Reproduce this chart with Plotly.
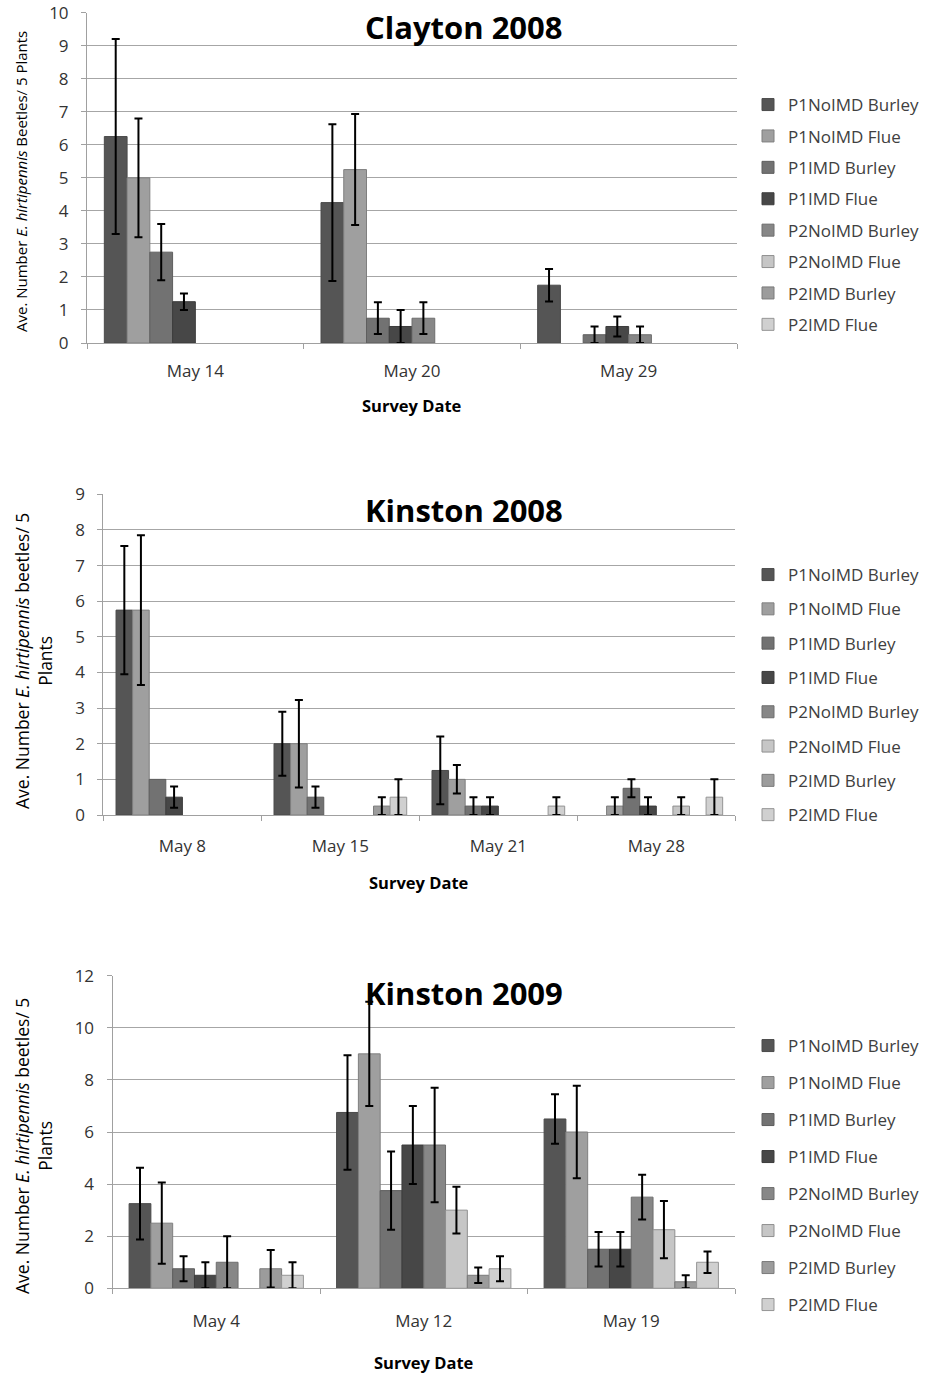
import numpy as np
import plotly.graph_objects as go

W, H = 927, 1373

series = ["P1NoIMD Burley", "P1NoIMD Flue", "P1IMD Burley", "P1IMD Flue",
          "P2NoIMD Burley", "P2NoIMD Flue", "P2IMD Burley", "P2IMD Flue"]
colors = ["#555555", "#9f9f9f", "#727272", "#474747",
          "#878787", "#c6c6c6", "#9c9c9c", "#d0d0d0"]
edges = ["#4a4a4a", "#7f7f7f", "#5e5e5e", "#3c3c3c",
         "#6e6e6e", "#8f8f8f", "#7a7a7a", "#959595"]

# ---- Clayton 2008 ----
clayton_dates = ["May 14", "May 20", "May 29"]
clayton_may14 = [6.25, 5.0, 2.75, 1.25, 0, 0, 0, 0]
clayton_may14_err = [2.95, 1.8, 0.85, 0.25, None, None, None, None]
clayton_may20 = [4.25, 5.25, 0.75, 0.5, 0.75, 0, 0, 0]
clayton_may20_err = [2.37, 1.68, 0.48, 0.5, 0.48, None, None, None]
clayton_may29 = [1.75, 0, 0.25, 0.5, 0.25, 0, 0, 0]
clayton_may29_err = [0.49, None, 0.25, 0.3, 0.25, None, None, None]

# ---- Kinston 2008 ----
kin08_dates = ["May 8", "May 15", "May 21", "May 28"]
kin08_may8 = [5.75, 5.75, 1.0, 0.5, 0, 0, 0, 0]
kin08_may8_err = [1.8, 2.1, None, 0.3, None, None, None, None]
kin08_may15 = [2.0, 2.0, 0.5, 0, 0, 0, 0.25, 0.5]
kin08_may15_err = [0.9, 1.23, 0.3, None, None, None, 0.25, 0.5]
kin08_may21 = [1.25, 1.0, 0.25, 0.25, 0, 0, 0, 0.25]
kin08_may21_err = [0.95, 0.4, 0.25, 0.25, None, None, None, 0.25]
kin08_may28 = [0, 0.25, 0.75, 0.25, 0, 0.25, 0, 0.5]
kin08_may28_err = [None, 0.25, 0.25, 0.25, None, 0.25, None, 0.5]

# ---- Kinston 2009 ----
kin09_dates = ["May 4", "May 12", "May 19"]
kin09_may4 = [3.25, 2.5, 0.75, 0.5, 1.0, 0, 0.75, 0.5]
kin09_may4_err = [1.38, 1.56, 0.48, 0.5, 1.0, None, 0.72, 0.5]
kin09_may12 = [6.75, 9.0, 3.75, 5.5, 5.5, 3.0, 0.5, 0.75]
kin09_may12_err = [2.2, 2.0, 1.5, 1.5, 2.2, 0.9, 0.3, 0.48]
kin09_may19 = [6.5, 6.0, 1.5, 1.5, 3.5, 2.25, 0.25, 1.0]
kin09_may19_err = [0.95, 1.78, 0.66, 0.66, 0.86, 1.1, 0.25, 0.41]

charts = [
    dict(dates=clayton_dates, vals=[clayton_may14, clayton_may20, clayton_may29],
         errs=[clayton_may14_err, clayton_may20_err, clayton_may29_err]),
    dict(dates=kin08_dates, vals=[kin08_may8, kin08_may15, kin08_may21, kin08_may28],
         errs=[kin08_may8_err, kin08_may15_err, kin08_may21_err, kin08_may28_err]),
    dict(dates=kin09_dates, vals=[kin09_may4, kin09_may12, kin09_may19],
         errs=[kin09_may4_err, kin09_may12_err, kin09_may19_err]),
]

# layout geometry (pixels)
plot_x = [(87, 737), (103.4, 735.3), (112.5, 735)]
plot_y = [(12.7, 343), (494.3, 815), (975.7, 1288.3)]
yranges = [(10, 1), (9, 1), (12, 2)]
titles = ["Clayton 2008", "Kinston 2008", "Kinston 2009"]
title_y = [27, 510, 993]
xlabel_y = [405, 883, 1362]
xtick_standoff = [13, 16, 17]
legend_top = [87, 557, 1028]
legend_gap = [6.3, 9.2, 11.9]
ytitles = ["Ave. Number <i>E. hirtipennis</i> Beetles/ 5 Plants",
           "Ave. Number <i>E. hirtipennis</i> beetles/ 5<br>Plants",
           "Ave. Number <i>E. hirtipennis</i> beetles/ 5<br>Plants"]
ytitle_size = [15, 17.5, 17.5]
ytitle_pos = [(21, 182), (33, 661), (33, 1146)]

FONT = "Open Sans"
fig = go.Figure()
layout = dict(width=W, height=H, margin=dict(l=0, r=0, t=0, b=0, pad=0, autoexpand=False),
              paper_bgcolor="white", plot_bgcolor="white",
              barmode="group", bargap=0.16, bargroupgap=0,
              font=dict(family=FONT, color="#333333"), annotations=[])

for ci, ch in enumerate(charts):
    sfx = "" if ci == 0 else str(ci + 1)
    xa, ya = "x" + sfx, "y" + sfx
    leg = "legend" if ci == 0 else "legend" + str(ci + 1)
    for si, name in enumerate(series):
        yv = [v[si] if v[si] != 0 else None for v in ch["vals"]]
        ev = np.array([e[si] for e in ch["errs"]], dtype=float)
        fig.add_trace(go.Bar(
            x=ch["dates"], y=yv, name=name, xaxis=xa, yaxis=ya,
            legend=leg, legendgroup=f"c{ci}s{si}",
            marker=dict(color=colors[si], line=dict(color=edges[si], width=1)),
            error_y=dict(type="data", array=ev, symmetric=True, color="black",
                         thickness=2, width=4, visible=True),
        ))
    x0, x1 = plot_x[ci]
    y0, y1 = plot_y[ci]
    layout["xaxis" + sfx] = dict(
        domain=[x0 / W, x1 / W], anchor=ya, type="category",
        categoryorder="array", categoryarray=ch["dates"],
        showline=True, linecolor="#a0a0a0", linewidth=1,
        ticks="outside", tickson="boundaries", ticklen=5, tickcolor="#a0a0a0",
        showgrid=False, tickfont=dict(size=17, color="#333333", family=FONT),
        ticklabelstandoff=xtick_standoff[ci], fixedrange=True, automargin=False)
    layout["yaxis" + sfx] = dict(
        domain=[1 - y1 / H, 1 - y0 / H], anchor=xa,
        range=[0, yranges[ci][0]], dtick=yranges[ci][1], tick0=0,
        showline=True, linecolor="#a0a0a0", linewidth=1,
        ticks="outside", ticklen=5, tickcolor="#a0a0a0",
        showgrid=True, gridcolor="#a6a6a6", gridwidth=1, zeroline=False,
        tickfont=dict(size=17, color="#333333", family=FONT),
        ticklabelstandoff=9, fixedrange=True, automargin=False)
    layout[leg] = dict(
        x=748 / W, xanchor="left", y=1 - legend_top[ci] / H, yanchor="top",
        bgcolor="rgba(0,0,0,0)", tracegroupgap=legend_gap[ci],
        font=dict(size=17, color="#404040", family=FONT), itemwidth=30,
        traceorder="grouped")
    layout["annotations"] += [
        dict(text=titles[ci], xref="paper", yref="paper", x=464 / W,
             y=1 - title_y[ci] / H, showarrow=False, xanchor="center", yanchor="middle",
             font=dict(size=31, color="black", family=FONT, weight="bold")),
        dict(text="Survey Date", xref="paper", yref="paper", x=((x0 + x1) / 2) / W,
             y=1 - xlabel_y[ci] / H, showarrow=False, xanchor="center", yanchor="middle",
             font=dict(size=16.5, color="black", family=FONT, weight="bold")),
        dict(text=ytitles[ci], xref="paper", yref="paper", x=ytitle_pos[ci][0] / W,
             y=1 - ytitle_pos[ci][1] / H, showarrow=False, textangle=-90,
             xanchor="center", yanchor="middle",
             font=dict(size=ytitle_size[ci], color="black", family=FONT)),
    ]

fig.update_layout(**layout)
fig.write_html("out.html")
